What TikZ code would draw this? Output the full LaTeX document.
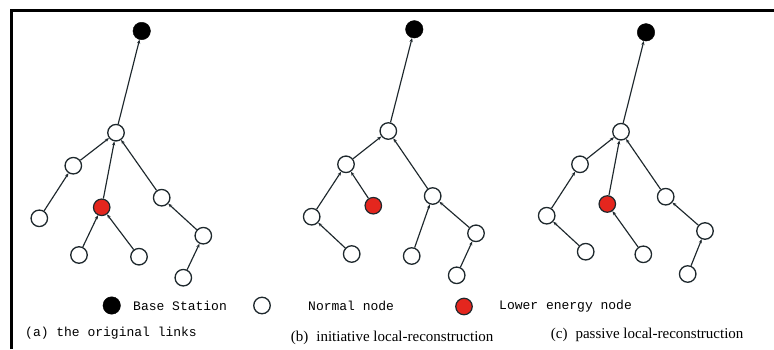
\documentclass[tikz,border=0pt]{standalone}
\usepackage{fontspec}
\setmainfont{Liberation Serif}
\newfontfamily\legfont{Liberation Mono}
\usetikzlibrary{arrows.meta}
\definecolor{lowred}{RGB}{228,38,30}
\definecolor{edgecol}{RGB}{30,40,45}
\tikzset{
  nrm/.style={circle,draw=edgecol,line width=1.3pt,fill=white,minimum size=16.5pt,inner sep=0pt},
  bsn/.style={circle,draw=black,fill=black,minimum size=17.5pt,inner sep=0pt},
  lown/.style={circle,draw=edgecol,line width=1.2pt,fill=lowred,minimum size=16.5pt,inner sep=0pt},
  lnk/.style={draw=edgecol,line width=1.15pt,-{Stealth[length=4pt,width=3.2pt]}},
  legtxt/.style={anchor=base west,inner sep=0pt,font=\legfont\fontsize{13}{15}\selectfont},
  captxt/.style={anchor=base west,inner sep=0pt,font=\fontsize{15}{17}\selectfont},
}
\begin{document}
\begin{tikzpicture}[x=1pt,y=-1pt]
\useasboundingbox (0,0) rectangle (774,349);
\fill[white] (0,0) rectangle (774,349);
% frame
\draw[line width=3pt] (11.5,349) -- (11.5,10.5) -- (774,10.5);

% ---------- panel (a)
\node[bsn] (aBS) at (141.7,31) {};
\node[nrm] (aA) at (116,132.7) {};
\node[nrm] (aB) at (73.3,165.7) {};
\node[lown] (aR) at (101.7,207.3) {};
\node[nrm] (aC) at (161.7,197.7) {};
\node[nrm] (aL) at (39.3,218.3) {};
\node[nrm] (aR1) at (79,255) {};
\node[nrm] (aR2) at (139,256.7) {};
\node[nrm] (aC1) at (203.3,235.7) {};
\node[nrm] (aC2) at (183.3,277.7) {};
\draw[lnk] (aA) -- (aBS);
\draw[lnk] (aB) -- (aA);
\draw[lnk] (aR) -- (aA);
\draw[lnk] (aC) -- (aA);
\draw[lnk] (aL) -- (aB);
\draw[lnk] (aR1) -- (aR);
\draw[lnk] (aR2) -- (aR);
\draw[lnk] (aC1) -- (aC);
\draw[lnk] (aC2) -- (aC1);

% ---------- panel (b)
\node[bsn] (bBS) at (414.3,29.3) {};
\node[nrm] (bA) at (388.3,131) {};
\node[nrm] (bB) at (346,164.3) {};
\node[lown] (bR) at (373.3,205.7) {};
\node[nrm] (bC) at (432.7,196) {};
\node[nrm] (bL) at (311.7,216.7) {};
\node[nrm] (bR1) at (351.7,254) {};
\node[nrm] (bR2) at (411.7,256) {};
\node[nrm] (bC1) at (476,233.3) {};
\node[nrm] (bC2) at (456.7,275.3) {};
\draw[lnk] (bA) -- (bBS);
\draw[lnk] (bB) -- (bA);
\draw[lnk] (bR) -- (bB);
\draw[lnk] (bC) -- (bA);
\draw[lnk] (bL) -- (bB);
\draw[lnk] (bR1) -- (bL);
\draw[lnk] (bR2) -- (bC);
\draw[lnk] (bC1) -- (bC);
\draw[lnk] (bC2) -- (bC1);

% ---------- panel (c)
\node[bsn] (cBS) at (646,32.3) {};
\node[nrm] (cA) at (621,131.7) {};
\node[nrm] (cB) at (580,164.3) {};
\node[lown] (cR) at (607.3,204) {};
\node[nrm] (cC) at (665.7,196.7) {};
\node[nrm] (cL) at (546.7,215.7) {};
\node[nrm] (cR1) at (585.7,251.7) {};
\node[nrm] (cR2) at (643.3,254.3) {};
\node[nrm] (cC1) at (705,231) {};
\node[nrm] (cC2) at (687.7,274) {};
\draw[lnk] (cA) -- (cBS);
\draw[lnk] (cB) -- (cA);
\draw[lnk] (cR) -- (cA);
\draw[lnk] (cC) -- (cA);
\draw[lnk] (cL) -- (cB);
\draw[lnk] (cR1) -- (cL);
\draw[lnk] (cR2) -- (cR);
\draw[lnk] (cC1) -- (cC);
\draw[lnk] (cC2) -- (cC1);

% ---------- legend
\node[bsn] (kBS) at (111.7,305.5) {};
\node[legtxt] (tBS) at (133,310) {Base Station};
\node[nrm] (kN) at (262,305.5) {};
\node[legtxt] (tN) at (308,310) {Normal node};
\node[lown] (kR) at (464,306.5) {};
\node[legtxt] (tR) at (499,309.5) {Lower energy node};

% ---------- captions
\node[legtxt] (capa) at (25,336) {(a) the original links};
\node[captxt] (capb) at (290.7,341) {(b)\hspace{8pt}initiative local-reconstruction};
\node[captxt] (capc) at (550.7,338) {(c)\hspace{8pt}passive local-reconstruction};
\end{tikzpicture}
\end{document}
